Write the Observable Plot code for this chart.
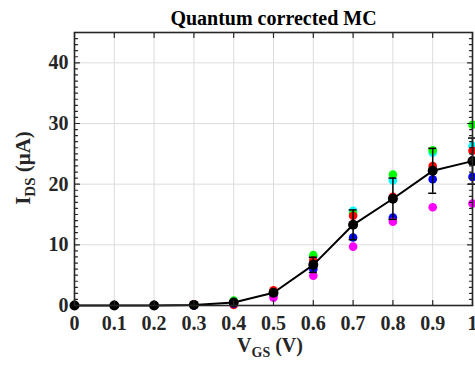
<!DOCTYPE html>
<html><head><meta charset="utf-8">
<script src="https://cdn.jsdelivr.net/npm/d3@7"></script>
<script src="https://cdn.jsdelivr.net/npm/@observablehq/plot@0.6"></script>
<style>body{margin:0;background:#fff;overflow:hidden}</style>
</head><body><div id="chart"></div>
<script>
const vgs     = [0, 0.1, 0.2, 0.3, 0.4, 0.5, 0.6, 0.7, 0.8, 0.9, 1.0];
const green   = [0, 0, 0, 0.1, 0.8, 2.2, 8.3, 15.1, 21.6, 25.6, 29.8];
const cyan    = [0, 0, 0, 0.1, 0.5, 2.0, 7.9, 15.6, 20.6, 25.2, 26.3];
const red     = [0, 0, 0, 0.2, 0.1, 2.5, 7.4, 14.8, 17.9, 23.0, 25.5];
const blue    = [0, 0, 0, 0.0, 0.3, 1.8, 6.0, 11.2, 14.5, 20.8, 21.2];
const magenta = [0, 0, 0, 0.1, 0.4, 1.3, 4.9, 9.7, 13.8, 16.2, 16.8];
const mean    = [0, 0, 0, 0.1, 0.5, 2.1, 6.7, 13.3, 17.6, 22.2, 23.8];
const stdev   = [0, 0, 0, 0.1, 0.3, 0.4, 1.25, 2.45, 3.4, 3.7, 3.8];
const xTicks  = [0, 0.1, 0.2, 0.3, 0.4, 0.5, 0.6, 0.7, 0.8, 0.9, 1];
const yTicks  = [0, 10, 20, 30, 40];
const yMinor  = d3.range(0, 46, 1).filter(d => d % 10 !== 0);
const titleText = "Quantum corrected MC";

const series = [
  {name: "cyan", vals: cyan, color: "#00ffff"},
  {name: "green", vals: green, color: "#00ff00"},
  {name: "red", vals: red, color: "#ff0000"},
  {name: "blue", vals: blue, color: "#0000ff"},
  {name: "magenta", vals: magenta, color: "#ff00ff"}
];
const meanRows = vgs.map((x, i) => ({x, y: mean[i], s: stdev[i]}));
const errRows = meanRows.filter(d => d.s > 0.5);
const axisColor = "#262626";
const tickShape = {draw(ctx, l) { ctx.moveTo(0, 0); ctx.lineTo(0, -l); }};
const tk = {anchor: "start", shape: tickShape, stroke: axisColor, strokeWidth: 1.2};

const plot = Plot.plot({
  width: 475, height: 367,
  marginLeft: 74, marginRight: 3, marginTop: 32, marginBottom: 62,
  style: {fontFamily: "Liberation Serif", fontWeight: "bold", fontSize: "20px", color: axisColor, background: "#fff"},
  x: {domain: [0, 1]},
  y: {domain: [0, 45]},
  marks: [
    Plot.gridX(xTicks, {stroke: "#dcdcdc", strokeOpacity: 1, strokeWidth: 1}),
    Plot.gridY(yTicks, {stroke: "#dcdcdc", strokeOpacity: 1, strokeWidth: 1}),
    ...series.map(s => Plot.dot(vgs.map((x, i) => ({x, y: s.vals[i]})), {x: "x", y: "y", r: 4.3, fill: s.color, stroke: "none"})),
    Plot.ruleX(errRows, {x: "x", y1: d => d.y - d.s, y2: d => d.y + d.s, stroke: "black", strokeWidth: 1.5}),
    Plot.ruleY(errRows, {y: d => d.y + d.s, x1: d => d.x - 0.01, x2: d => d.x + 0.01, stroke: "black", strokeWidth: 1.5}),
    Plot.ruleY(errRows, {y: d => d.y - d.s, x1: d => d.x - 0.01, x2: d => d.x + 0.01, stroke: "black", strokeWidth: 1.5}),
    Plot.line(meanRows, {x: "x", y: "y", stroke: "black", strokeWidth: 2}),
    Plot.dot(meanRows, {x: "x", y: "y", r: 5, fill: "black", stroke: "none"}),
    Plot.frame({stroke: axisColor, strokeWidth: 1.6}),
    Plot.vector(yMinor, {x: 0, y: d => d, rotate: 90, length: 3, ...tk}),
    Plot.vector(yTicks, {x: 0, y: d => d, rotate: 90, length: 5, ...tk}),
    Plot.vector(yMinor, {x: 1, y: d => d, rotate: -90, length: 3, ...tk}),
    Plot.vector(yTicks, {x: 1, y: d => d, rotate: -90, length: 5, ...tk}),
    Plot.vector(xTicks, {x: d => d, y: 45, rotate: 180, length: 5, ...tk}),
    Plot.vector(xTicks, {x: d => d, y: 0, rotate: 0, length: 5, ...tk}),
    Plot.axisX(xTicks, {tickSize: 0, tickPadding: 10, label: null, tickFormat: d => String(d), fontSize: 20}),
    Plot.axisY(yTicks, {tickSize: 0, tickPadding: 6, label: null, fontSize: 20}),
    Plot.text([titleText], {frameAnchor: "top", dy: -13.5, lineAnchor: "middle", fontSize: 20, fontWeight: "bold", fill: "black"})
  ]
});
document.getElementById("chart").appendChild(plot);

const svg = d3.select(plot);
const yl = svg.append("text")
  .attr("transform", "translate(30,168) rotate(-90)")
  .attr("text-anchor", "middle")
  .attr("font-family", "Liberation Serif").attr("font-weight", "bold").attr("font-size", 21).attr("fill", axisColor);
yl.append("tspan").text("I");
yl.append("tspan").attr("font-size", 15).attr("dy", 5).text("DS");
yl.append("tspan").attr("dy", -5).text(" (\u03bcA)");

const xl = svg.append("text")
  .attr("transform", "translate(270,352)")
  .attr("text-anchor", "middle")
  .attr("font-family", "Liberation Serif").attr("font-weight", "bold").attr("font-size", 20).attr("fill", axisColor);
xl.append("tspan").text("V");
xl.append("tspan").attr("font-size", 14).attr("dy", 5).text("GS");
xl.append("tspan").attr("dy", -5).text(" (V)");
</script>
</body></html>
